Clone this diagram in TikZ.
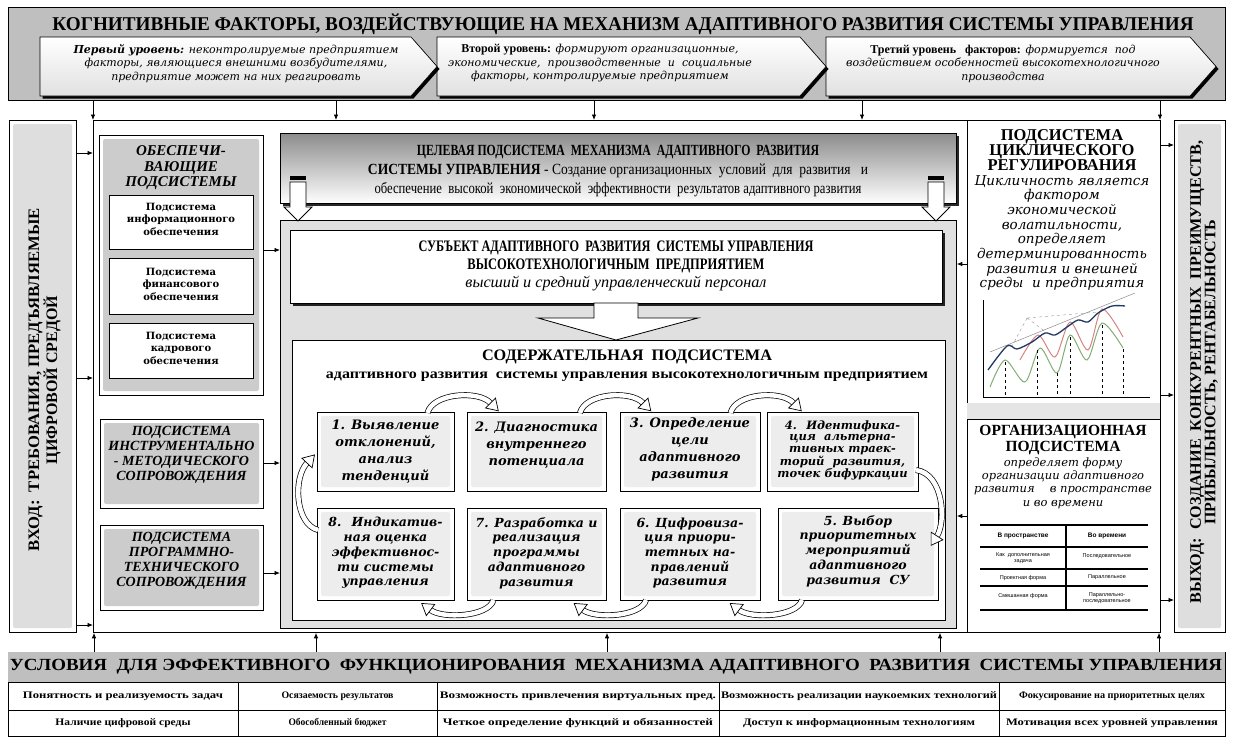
\documentclass[tikz,border=0pt]{standalone}
\usepackage{fontspec}
\setmainfont{Liberation Serif}
\setsansfont{Liberation Sans}
\newfontfamily\bk{DejaVu Serif}
\usepackage{graphicx}
\usetikzlibrary{arrows.meta,shadows}
\definecolor{navy}{HTML}{1F3864}
\definecolor{rd}{HTML}{C0504D}
\definecolor{gr}{HTML}{4E8A3A}
\newcommand{\fw}[2]{\resizebox{#1pt}{\height}{#2}}
\newcommand{\fs}[2]{\fontsize{#1}{#2}\selectfont}
\newcommand{\bx}[6]{\node[#6, anchor=north west, inner sep=0pt, minimum width={(#4-#2)*1pt}, minimum height={(#5-#3)*1pt}] (#1) at (#2,#3) {};}
\newcommand{\gbx}[6]{\bx{#1}{#2}{#3}{#4}{#5}{draw, ln, fill=white}\fill[#6, rounded corners=2pt] (#2+4,#3+4) rectangle (#4-4,#5-4);}
\newcommand{\chev}[3]{%
  \fill[black] (#1+2.5,39.5) -- (#2+2.5,39.5) -- (#3+2.5,69) -- (#2+2.5,98.5) -- (#1+2.5,98.5) -- cycle;
  \shade[top color=white, bottom color=black!12, draw=black, line width=0.6pt] (#1,37) -- (#2,37) -- (#3,66.5) -- (#2,96) -- (#1,96) -- cycle;}
\begin{document}
\begin{tikzpicture}[x=1pt,y=-1pt,
  ln/.style={line width=0.8pt},
  arr/.style={-{Latex[length=5.5pt,width=4.5pt]}, line width=0.8pt},
  txt/.style={inner sep=0pt, align=center},
  band/.style={double=white, double distance=4.5pt, line width=0.7pt},
  shd/.style={drop shadow={shadow xshift=2.5pt, shadow yshift=-2.5pt, fill=black, opacity=0.85}},
  ptxt/.style={txt, font=\bk\bfseries\itshape\fs{13}{17}},
  ptxtb/.style={txt, font=\bk\bfseries\itshape\fs{12.5}{14.7}},
  ltit/.style={txt, font=\bfseries\itshape\fs{14}{15}},
  inb/.style={txt, font=\bk\bfseries\fs{10}{12.5}},
  cell/.style={txt, font=\bfseries\fs{10}{10}},
  thd/.style={txt, font=\sffamily\bfseries\fs{6.5}{7}},
  tcl/.style={txt, font=\sffamily\fs{5.5}{6.5}}
]
\useasboundingbox (0,0) rectangle (1233,736);
\fill[white] (0,0) rectangle (1233,736);

% ---------- top banner ----------
\bx{banner}{8}{7}{1225}{100}{draw, ln, fill=black!25}
\node[txt, font=\bfseries\fs{19.5}{19.5}] (ttl) at (623,24) {\fw{1141}{КОГНИТИВНЫЕ ФАКТОРЫ, ВОЗДЕЙСТВУЮЩИЕ НА МЕХАНИЗМ АДАПТИВНОГО РАЗВИТИЯ СИСТЕМЫ УПРАВЛЕНИЯ}};
\chev{826}{1190}{1216}
\chev{437}{800}{826}
\chev{40}{411}{437}
\node[txt, font=\bk\itshape\fs{11}{13.5}] (a1) at (236,63.5) {{\bfseries Первый уровень:} неконтролируемые предприятием\\факторы, являющиеся внешними возбудителями,\\предприятие может на них реагировать};
\node[txt, font=\bk\itshape\fs{11}{13.5}] (a2) at (600,63.5) {{\rmfamily\upshape\bfseries\fs{12}{13.5}Второй уровень:} формируют организационные,\\экономические, \ производственные \ и \ социальные\\факторы, контролируемые предприятием};
\node[txt, font=\bk\itshape\fs{11}{13.5}] (a3) at (1003,63.5) {{\rmfamily\upshape\bfseries\fs{12}{13.5}Третий уровень \ \ факторов:} формируется \ под\\воздействием особенностей высокотехнологичного\\производства};

% ---------- input / output ----------
\gbx{inp}{9}{120}{76}{632}{black!13}
\node[txt, rotate=90, font=\bfseries\fs{16}{14.5}] (inptxt) at (44.5,380) {\fw{343}{ВХОД: \ ТРЕБОВАНИЯ, ПРЕДЪЯВЛЯЕМЫЕ}\\ЦИФРОВОЙ СРЕДОЙ};
\gbx{outp}{1174}{120}{1225}{632}{black!13}
\node[txt, rotate=90, font=\bfseries\fs{16}{14.5}] (outtxt) at (1204,372) {\fw{463}{ВЫХОД: \ СОЗДАНИЕ \ КОНКУРЕНТНЫХ \ ПРЕИМУЩЕСТВ,}\\ПРИБЫЛЬНОСТЬ, РЕНТАБЕЛЬНОСТЬ};

% ---------- main frame ----------
\bx{mainf}{93}{120}{1160}{632}{draw, ln, fill=white}

% ---------- left column ----------
\gbx{obesp}{99}{135}{263}{395}{black!20}
\node[ltit, font=\bfseries\itshape\fs{15}{15.5}] (obtit) at (181,168) {ОБЕСПЕЧИ-\\ВАЮЩИЕ\\ПОДСИСТЕМЫ};
\bx{ob1}{109}{195}{253}{249}{draw, ln, fill=white}
\bx{ob2}{109}{258}{253}{314}{draw, ln, fill=white}
\bx{ob3}{109}{323}{253}{378}{draw, ln, fill=white}
\node[inb] (ob1t) at (181,219) {Подсистема\\информационного\\обеспечения};
\node[inb] (ob2t) at (181,284) {Подсистема\\финансового\\обеспечения};
\node[inb] (ob3t) at (181,348) {Подсистема\\кадрового\\обеспечения};
\gbx{instr}{100}{419}{263}{508}{black!20}
\node[ltit] (instrt) at (181.5,455) {ПОДСИСТЕМА\\ИНСТРУМЕНТАЛЬНО\\- МЕТОДИЧЕСКОГО\\СОПРОВОЖДЕНИЯ};
\gbx{progr}{100}{525}{263}{610}{black!20}
\node[ltit] (progrt) at (181.5,561) {ПОДСИСТЕМА\\ПРОГРАММНО-\\ТЕХНИЧЕСКОГО\\СОПРОВОЖДЕНИЯ};

% ---------- centre ----------
\bx{cfr}{280}{220}{956}{628}{draw, ln, fill=black!12}
\bx{target}{280}{133}{956}{203}{draw, ln, top color=black!45, bottom color=white, shd}
\node[txt, font=\fs{15.5}{19}] (targett) at (618,171) {\fw{402}{\bfseries ЦЕЛЕВАЯ ПОДСИСТЕМА \ МЕХАНИЗМА \ АДАПТИВНОГО \ РАЗВИТИЯ}\\\fw{500}{\textbf{СИСТЕМЫ УПРАВЛЕНИЯ} - Создание организационных \ условий \ для \ развития \ \ и}\\\fw{487}{обеспечение \ высокой \ экономической \ эффективности \ результатов адаптивного развития}};
\foreach \c in {298,936} {
  \fill[black] (\c-8,176) rectangle (\c+8,179.5);
  \filldraw[fill=white, ln] (\c-8,182) -- (\c+8,182) -- (\c+8,207) -- (\c+14,207) -- (\c,221) -- (\c-14,207) -- (\c-8,207) -- cycle;
}
\bx{subj}{290}{230}{942}{303}{draw, ln, fill=white, shd}
\node[txt, font=\fs{16}{18}] (subjt) at (616,266) {\fw{395}{\bfseries СУБЪЕКТ АДАПТИВНОГО \ РАЗВИТИЯ \ СИСТЕМЫ УПРАВЛЕНИЯ}\\\fw{297}{\bfseries ВЫСОКОТЕХНОЛОГИЧНЫМ \ ПРЕДПРИЯТИЕМ}\\\fw{301}{\itshape высший и средний управленческий персонал}};
\filldraw[fill=white, ln] (594,303) -- (638,303) -- (638,318) -- (698,318) -- (616,340) -- (538,318) -- (594,318) -- cycle;
\bx{cont}{292}{340}{945}{620}{draw, ln, fill=white}
\node[txt, font=\bfseries\fs{16}{18}] (contt) at (627,366) {\fw{290}{СОДЕРЖАТЕЛЬНАЯ \ ПОДСИСТЕМА}\\\fw{602}{\fs{14}{18}адаптивного развития \ системы управления высокотехнологичным предприятием}};

\gbx{p1}{317}{412}{454}{491}{black!7}
\gbx{p2}{467}{412}{606}{491}{black!7}
\gbx{p3}{620}{412}{760}{491}{black!7}
\gbx{p4}{767}{412}{918}{491}{black!7}
\gbx{p8}{317}{508}{454}{600}{black!7}
\gbx{p7}{467}{508}{606}{600}{black!7}
\gbx{p6}{620}{508}{760}{600}{black!7}
\gbx{p5}{778}{508}{938}{600}{black!7}
\node[ptxt] (t1) at (385.5,452) {1. Выявление\\отклонений,\\анализ\\тенденций};
\node[ptxt] (t2) at (536.5,445) {2. Диагностика\\внутреннего\\потенциала};
\node[ptxt] (t3) at (690,449) {3. Определение\\цели\\адаптивного\\развития};
\node[ptxt, font=\bk\bfseries\itshape\fs{11.5}{11.7}] (t4) at (842.5,450) {4. \ Идентифика-\\ция \ альтерна-\\тивных траек-\\торий \ развития,\\точек бифуркации};
\node[ptxtb] (t8) at (385.5,553) {8. \ Индикатив-\\ная оценка\\эффективнос-\\ти системы\\управления};
\node[ptxtb] (t7) at (536.5,553) {7. Разработка и\\реализация\\программы\\адаптивного\\развития};
\node[ptxtb] (t6) at (690,553) {6. Цифровиза-\\ция приори-\\тетных на-\\правлений\\развития};
\node[ptxtb] (t5) at (858,551) {5. Выбор\\приоритетных\\мероприятий\\адаптивного\\развития \ СУ};

\foreach \g in {460.5,613,763.5} {
  \draw[band] (\g-33,413) .. controls (\g-28,393) and (\g+18,390) .. (\g+30,403);
  \filldraw[fill=white, line width=0.7pt] (\g+37.8,410.8) -- (\g+25,408) -- (\g+35,398) -- cycle;
}
\foreach \g in {460.5,613,769} {
  \draw[band] (\g+33,600) .. controls (\g+28,617) and (\g-18,619) .. (\g-30,610);
  \filldraw[fill=white, line width=0.7pt] (\g-38.8,603.4) -- (\g-25.8,604.4) -- (\g-34.2,615.6) -- cycle;
}
\draw[band] (916,470) .. controls (944,474) and (946,522) .. (937,536);
\filldraw[fill=white, line width=0.7pt] (931.1,545.3) -- (942.9,539.8) -- (931.1,532.2) -- cycle;
\draw[band] (318,530) .. controls (295,524) and (293,478) .. (307,463);
\filldraw[fill=white, line width=0.7pt] (314.5,454.9) -- (312.1,467.8) -- (301.9,458.2) -- cycle;

% ---------- right column ----------
\bx{cyc}{967}{120}{1160}{403}{draw, ln, fill=white}
\fill[black!10] (967.4,403.4) rectangle (1159.6,418.6);
\bx{org}{967}{419}{1160}{632}{draw, ln, fill=white}
\node[txt, font=\bfseries\fs{16.5}{15}] (cyct) at (1062,150) {ПОДСИСТЕМА\\ЦИКЛИЧЕСКОГО\\РЕГУЛИРОВАНИЯ};
\node[txt, font=\bk\itshape\fs{13.5}{14.7}] (cycx) at (1062,233) {Цикличность является\\фактором\\экономической\\волатильности,\\определяет\\детерминированность\\развития и внешней\\среды \ и предприятия};
% chart
\draw[line width=0.5pt] (983,300) -- (983,397) -- (1150,397);
\draw[black!45, line width=0.5pt] (990,352) -- (1135,293);
\draw[black!50, dashed, line width=0.3pt] (1027,318) -- (1012,346) (1027,318) -- (1046,332) (1027,318) -- (1098,312);
\draw[gr!70, line width=1pt] plot[smooth] coordinates {(990,387) (1005,360) (1025,382) (1040,348) (1057,373) (1070,335) (1087,360) (1102,323) (1123,348)};
\draw[rd!70, line width=1pt] plot[smooth] coordinates {(1020,360) (1038,335) (1055,357) (1070,322) (1088,350) (1102,309) (1123,337)};
\draw[navy, line width=1.3pt] plot[smooth] coordinates {(988,370) (1007,346) (1017,349) (1032,342) (1045,333) (1055,335) (1067,327) (1078,320) (1088,322) (1098,313) (1112,306) (1125,306)};
\foreach \px/\py in {1005/362,1037/350,1057/373,1070/337,1102/325,1123/349} \draw[dashed, line width=0.3pt] (\px,\py) -- (\px,397);
% organisational
\node[txt, font=\bfseries\fs{15.5}{16}] (orgt) at (1063,440) {ОРГАНИЗАЦИОННАЯ\\ПОДСИСТЕМА};
\node[txt, font=\bk\itshape\fs{11.5}{13.3}] (orgx) at (1063,483) {определяет форму\\организации адаптивного\\развития \quad в пространстве\\и во времени};
\draw[line width=1.1pt] (980,525) -- (1148,525) (980,547) -- (1148,547) (980,569) -- (1148,569) (980,586) -- (1148,586) (980,610) -- (1148,610) (1066,525) -- (1066,610);
\node[thd] (th1) at (1023,536) {В пространстве};
\node[thd] (th2) at (1107,536) {Во времени};
\node[tcl] (tc1) at (1023,558) {Как \ дополнительная\\задача};
\node[tcl] (tc2) at (1107,556) {Последовательное};
\node[tcl] (tc3) at (1023,578) {Проектная форма};
\node[tcl] (tc4) at (1107,577) {Параллельное};
\node[tcl] (tc5) at (1023,596) {Смешанная форма};
\node[tcl] (tc6) at (1107,598) {Параллельно-\\последовательное};

% ---------- bottom banner ----------
\bx{cond}{8}{652}{1225}{736}{draw, ln, fill=white}
\fill[black!25] (8.4,652.4) rectangle (1224.6,682);
\node[txt, font=\bfseries\fs{17}{17}] (condt) at (616,667) {\fw{1212}{УСЛОВИЯ \ ДЛЯ ЭФФЕКТИВНОГО \ ФУНКЦИОНИРОВАНИЯ \ МЕХАНИЗМА АДАПТИВНОГО \ РАЗВИТИЯ \ СИСТЕМЫ УПРАВЛЕНИЯ}};
\draw[ln] (8,682) -- (1225,682) (8,710) -- (1225,710);
\foreach \cx in {238,437,719,999} \draw[ln] (\cx,682) -- (\cx,736);
\node[cell] (c11) at (123,696) {\fw{200}{Понятность и реализуемость задач}};
\node[cell] (c12) at (337.5,696) {\fw{112}{Осязаемость результатов}};
\node[cell] (c13) at (578,696) {\fw{276}{Возможность привлечения виртуальных пред.}};
\node[cell] (c14) at (859,696) {\fw{276}{Возможность реализации наукоемких технологий}};
\node[cell] (c15) at (1112,696) {\fw{186}{Фокусирование на приоритетных целях}};
\node[cell] (c21) at (123,723) {\fw{135}{Наличие цифровой среды}};
\node[cell] (c22) at (337.5,723) {\fw{98}{Обособленный бюджет}};
\node[cell] (c23) at (578,723) {\fw{270}{Четкое определение функций и обязанностей}};
\node[cell] (c24) at (859,723) {\fw{232}{Доступ к информационным технологиям}};
\node[cell] (c25) at (1112,723) {\fw{212}{Мотивация всех уровней управления}};

% ---------- connectors ----------
\foreach \ax in {93,336,594,862,1160} \draw[arr] (\ax,0 |- banner.south) -- (\ax,0 |- mainf.north);
\foreach \ay in {153,378,625} \draw[arr] (inp.east |- 0,\ay) -- (mainf.west |- 0,\ay);
\draw[arr] (obesp.east |- 0,250) -- (cfr.west |- 0,250);
\draw[arr] (instr.east |- 0,463) -- (cfr.west |- 0,463);
\draw[arr] (progr.east |- 0,573) -- (cfr.west |- 0,573);
\draw[arr] (cyc.west |- 0,264) -- (cfr.east |- 0,264);
\draw[arr] (org.west |- 0,516) -- (cfr.east |- 0,516);
\foreach \ay in {145,395,600} \draw[arr] (mainf.east |- 0,\ay) -- (outp.west |- 0,\ay);
\foreach \ax in {94,316,607,940,1159} \draw[arr] (\ax,0 |- cond.north) -- (\ax,0 |- mainf.south);
\end{tikzpicture}
\end{document}
